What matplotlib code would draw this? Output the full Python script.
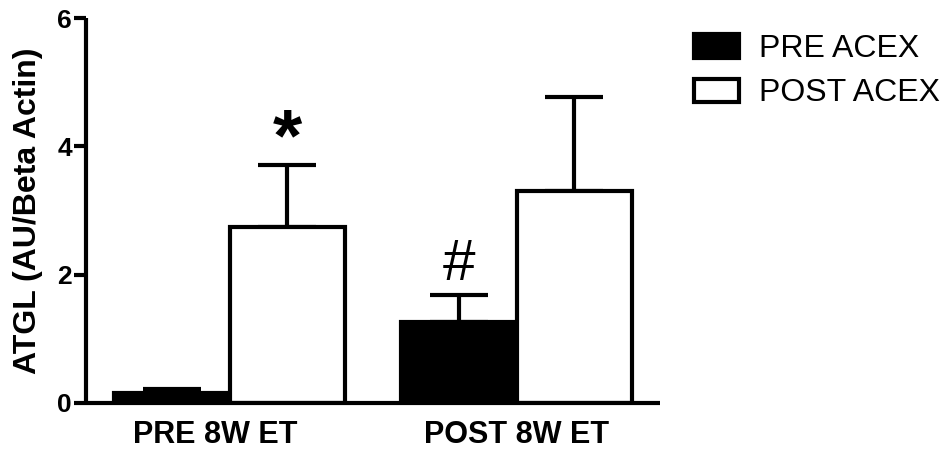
import matplotlib
matplotlib.use("Agg")
import matplotlib.pyplot as plt
import matplotlib.transforms as mtransforms
from matplotlib.patches import Patch
import numpy as np

# Data
groups = ["PRE 8W ET", "POST 8W ET"]
series = ["PRE ACEX", "POST ACEX"]
pre_acex = [0.16, 1.26]
post_acex = [2.74, 3.30]
pre_acex_err = [0.06, 0.42]
post_acex_err = [0.97, 1.47]
annotations = ["", "#"]        # above PRE ACEX bars
annotations_post = ["*", ""]   # above POST ACEX bars
yticks = [0, 2, 4, 6]

plt.rcParams['font.family'] = ['Liberation Sans', 'DejaVu Sans']

fig = plt.figure(figsize=(9.46, 4.49), dpi=100)
ax = fig.add_axes([86/946, 1-403/449, (660-86)/946, (403-18)/449])

x = np.arange(len(groups))
w = 0.404
lw = 3.0

ax.bar(x - w/2, pre_acex, w, color='black', edgecolor='black', linewidth=lw, zorder=2)
ax.bar(x + w/2, post_acex, w, color='white', edgecolor='black', linewidth=lw, zorder=2)

zeros = [0]*len(groups)
ax.errorbar(x - w/2, pre_acex, yerr=[zeros, pre_acex_err], fmt='none', ecolor='black',
            elinewidth=lw, capsize=21, capthick=lw, zorder=1)
ax.errorbar(x + w/2, post_acex, yerr=[zeros, post_acex_err], fmt='none', ecolor='black',
            elinewidth=lw, capsize=21, capthick=lw, zorder=1)

for xi, v, e, a in zip(x - w/2, pre_acex, pre_acex_err, annotations):
    if a:
        ax.text(xi, v + e + 0.89, a, ha='center', va='top', fontsize=42, color='black')
for xi, v, e, a in zip(x + w/2, post_acex, post_acex_err, annotations_post):
    if a:
        ax.text(xi, v + e + 0.92, a, ha='center', va='top', fontsize=54, fontweight='bold', color='black')

ax.set_xlim(-0.5, 1.5)
ax.set_ylim(0, 6)
ax.set_yticks(yticks)
ax.set_yticklabels([str(t) for t in yticks], fontsize=19, fontweight='bold')
ax.set_xticks(x)
ax.set_xticklabels(groups, fontsize=22, fontweight='bold')
ax.tick_params(axis='x', length=0, pad=12)
ax.tick_params(axis='y', length=9, width=lw, pad=1)

# shift first x label slightly left as in reference
lbl = ax.get_xticklabels()[0]
lbl.set_transform(lbl.get_transform() + mtransforms.ScaledTranslation(-14/100, 0, fig.dpi_scale_trans))

for s in ['top', 'right']:
    ax.spines[s].set_visible(False)
for s in ['left', 'bottom']:
    ax.spines[s].set_linewidth(lw)
    ax.spines[s].set_capstyle('butt')

ax.set_ylabel("ATGL (AU/Beta Actin)", fontsize=23, fontweight='bold')
ax.yaxis.set_label_coords(-0.075, 0.5)

handles = [Patch(facecolor='black', edgecolor='black', linewidth=lw),
           Patch(facecolor='white', edgecolor='black', linewidth=lw)]
fig.legend(handles, series, loc='upper left', bbox_to_anchor=(694/946, 1-34/449),
           frameon=False, fontsize=23, handlelength=1.4, handleheight=0.75,
           handletextpad=0.65, labelspacing=0.45, borderpad=0, borderaxespad=0)

fig.savefig("out.png", dpi=100)
